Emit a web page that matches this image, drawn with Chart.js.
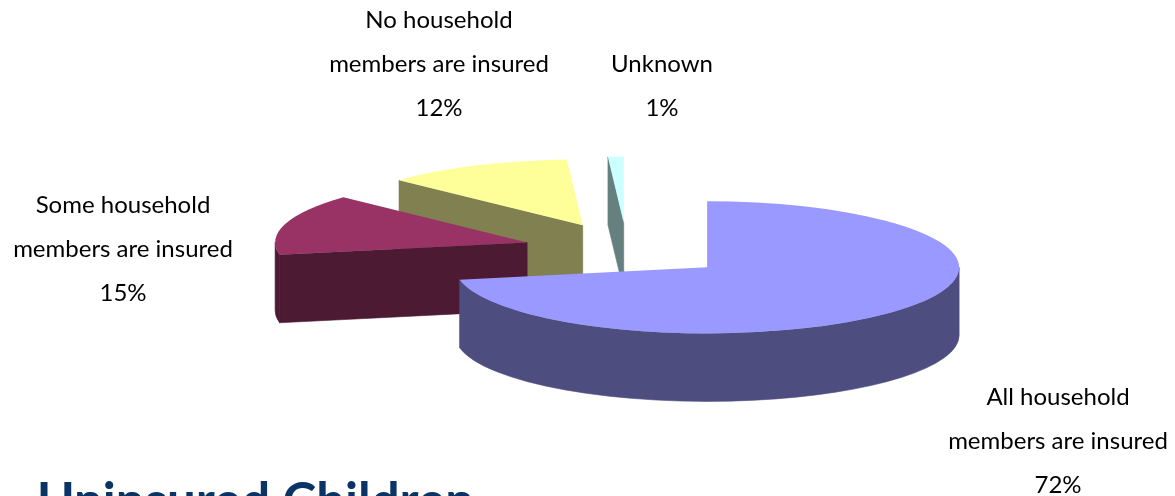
<!DOCTYPE html>
<html>
<head>
<meta charset="utf-8">
<script src="https://cdn.jsdelivr.net/npm/chart.js@4.4.1/dist/chart.umd.min.js"></script>
<style>
  html, body { margin: 0; padding: 0; background: #fff; overflow: hidden; }
  #wrap { width: 1175px; height: 496px; position: relative; }
</style>
</head>
<body>
<div id="wrap"><canvas id="pie" width="1175" height="496"></canvas></div>
<script>
const categories = [
    ["All household", "members are insured"],
    ["Some household", "members are insured"],
    ["No household", "members are insured"],
    ["Unknown"],
];
const shares = [72, 15, 12, 1];
const topColors = ["#9999FF", "#993366", "#FFFF99", "#CCFFFF"];
const sideColors = ["#4D4D80", "#4D1A33", "#808050", "#668080"];
const chartTitle = "Uninsured Children";

const FONT = "Lato, 'Open Sans', sans-serif";

// point on the flattened rim, angle a in canvas radians
const rimPoint = (s, a, tilt, dy) => [
    s.cx + s.r * Math.cos(a),
    s.cy + s.r * tilt * Math.sin(a) + dy,
];

/**
 * Draws one exploded wedge as a solid: visible side faces first, then the top
 */
const drawWedge = (ctx, s, tilt, depth, top, side) => {
    ctx.fillStyle = side;
    ctx.strokeStyle = side;
    ctx.lineWidth = 0.6;

    // straight cut faces that turn toward the viewer
    const cuts = [[s.a0, Math.cos(s.a0) < 0], [s.a1, Math.cos(s.a1) > 0]];
    cuts.forEach(([a, visible]) => {
        if (!visible) return;
        const [ex, ey] = rimPoint(s, a, tilt, 0);
        ctx.beginPath();
        ctx.moveTo(s.cx, s.cy);
        ctx.lineTo(ex, ey);
        ctx.lineTo(ex, ey + depth);
        ctx.lineTo(s.cx, s.cy + depth);
        ctx.closePath();
        ctx.fill();
        ctx.stroke();
    });

    // curved outer wall, front half only
    const lo = Math.max(s.a0, 0);
    const hi = Math.min(s.a1, Math.PI);
    if (hi > lo) {
        ctx.beginPath();
        ctx.ellipse(s.cx, s.cy, s.r, s.r * tilt, 0, lo, hi);
        ctx.ellipse(s.cx, s.cy + depth, s.r, s.r * tilt, 0, hi, lo, true);
        ctx.closePath();
        ctx.fill();
        ctx.stroke();
    }

    ctx.fillStyle = top;
    ctx.beginPath();
    ctx.moveTo(s.cx, s.cy);
    ctx.ellipse(s.cx, s.cy, s.r, s.r * tilt, 0, s.a0, s.a1);
    ctx.closePath();
    ctx.fill();
};

const tiltedPie = {
    id: "tiltedPie",
    beforeDatasetsDraw(chart, args, opts) {
        const ctx = chart.ctx;
        const meta = chart.getDatasetMeta(0);
        const ds = chart.data.datasets[0];

        const wedges = meta.data.map((arc, i) => {
            const p = arc.getProps(["x", "y", "startAngle", "endAngle", "outerRadius"], true);
            const mid = (p.startAngle + p.endAngle) / 2;
            const off = arc.options.offset;
            return {
                i,
                a0: p.startAngle,
                a1: p.endAngle,
                r: p.outerRadius,
                cx: p.x + off * Math.cos(mid),
                cy: p.y + off * opts.tilt * Math.sin(mid),
            };
        });

        // paint back to front
        wedges.sort((a, b) => a.cy - b.cy);
        ctx.save();
        wedges.forEach((s) =>
            drawWedge(ctx, s, opts.tilt, opts.depth, ds.backgroundColor[s.i], opts.sideColors[s.i])
        );
        ctx.restore();
        return false;
    },
    afterDraw(chart, args, opts) {
        const ctx = chart.ctx;
        const ds = chart.data.datasets[0];
        ctx.save();
        ctx.fillStyle = "#000";
        ctx.font = `${opts.labelSize}px ${FONT}`;
        ctx.textAlign = "center";
        ctx.textBaseline = "middle";
        chart.data.labels.forEach((lines, i) => {
            const [x, y] = opts.labelAnchors[i];
            const text = [...lines, `${ds.data[i]}%`];
            text.forEach((t, j) => ctx.fillText(t, x, y + j * opts.lineGap));
        });

        ctx.fillStyle = "#0A3466";
        ctx.font = `bold 51px ${FONT}`;
        ctx.textAlign = "left";
        ctx.textBaseline = "alphabetic";
        ctx.fillText(chartTitle, 37, 519);
        ctx.restore();
    },
};

new Chart(document.getElementById("pie"), {
    type: "pie",
    data: {
        labels: categories,
        datasets: [
            {
                data: shares,
                backgroundColor: topColors,
                borderWidth: 0,
                offset: 104,
            },
        ],
    },
    options: {
        responsive: false,
        animation: false,
        radius: 252,
        layout: { padding: { left: 79, top: 4, right: 0, bottom: 0 } },
        plugins: {
            legend: { display: false },
            tooltip: { enabled: false },
            tiltedPie: {
                tilt: 0.262,
                depth: 68,
                sideColors: sideColors,
                labelSize: 24,
                lineGap: 44,
                labelAnchors: [[1058, 397], [123, 205], [439, 20], [662, 64]],
            },
        },
    },
    plugins: [tiltedPie],
});
</script>
</body>
</html>
